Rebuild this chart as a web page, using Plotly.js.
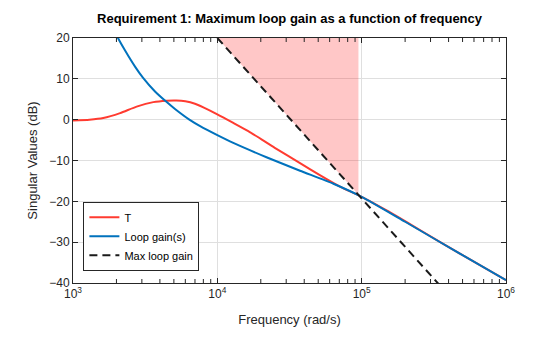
<!DOCTYPE html>
<html>
<head>
<meta charset="utf-8">
<script src="https://cdn.plot.ly/plotly-3.0.1.min.js"></script>
<style>html,body{margin:0;padding:0;background:#fff;}#chart{width:560px;height:337px;}</style>
</head>
<body>
<div id="chart"></div>
<script>
// Data (frequency in rad/s, values in dB)
const tFreq = [1e3, 1.3e3, 1.62e3, 2.12e3, 2.76e3, 3.6e3, 4.46e3, 5.2e3, 6e3, 7e3, 8e3, 1e4, 1.29e4, 1.69e4, 2.5e4, 3.74e4, 5.2e4, 7.08e4, 1e5, 1.5e5, 2.5e5, 5e5, 1e6];
const tDb   = [-0.2, 0.0, 0.4, 1.6, 3.2, 4.3, 4.65, 4.7, 4.5, 3.9, 3.0, 1.3, -0.8, -3.1, -6.9, -10.65, -13.7, -16.4, -18.9, -22.3, -26.9, -33.2, -39.3];

const lFreq = [1.7e3, 1.9e3, 2.05e3, 2.29e3, 2.69e3, 3.05e3, 3.7e3, 4.46e3, 5.09e3, 6.4e3, 7.6e3, 1e4, 1.29e4, 2.19e4, 3.74e4, 6.37e4, 1e5, 2e5, 5e5, 1e6];
const lDb   = [26, 22.5, 20, 17.0, 13.0, 10.3, 6.9, 4.3, 2.6, 0.0, -1.6, -3.8, -5.7, -9.2, -12.5, -15.7, -18.9, -25.0, -33.2, -39.3];

const maxFreq = [1e4, 1e6];
const maxDb   = [20, -58.6];

const shadeFreq = [1e4, 9.5e4, 9.5e4, 1e4];
const shadeDb   = [20, -18.4, 20, 20];

const xTickVals = [1e3, 1e4, 1e5, 1e6];
const xTickText = ['10<sup>3</sup>', '10<sup>4</sup>', '10<sup>5</sup>', '10<sup>6</sup>'];
const yTickVals = [-40, -30, -20, -10, 0, 10, 20];
const minorMultipliers = [2, 3, 4, 5, 6, 7, 8, 9];
const decades = [1e3, 1e4, 1e5];
const xMinorVals = [];
decades.forEach(d => minorMultipliers.forEach(m => xMinorVals.push(d * m)));

const font = 'Liberation Sans, Arial, sans-serif';
const axisColor = '#262626';
const xRangeLog = [3, 6];

// Minor tick marks on the bottom and top edges (axis decoration)
const plotH = 337 - 38 - 54;
const minorLen = 4 / plotH;
const minorShapes = [];
xMinorVals.forEach(v => {
  const fx = (Math.log10(v) - xRangeLog[0]) / (xRangeLog[1] - xRangeLog[0]);
  minorShapes.push({type: 'line', xref: 'paper', yref: 'paper', x0: fx, x1: fx, y0: 0, y1: minorLen,
                    line: {color: '#262626', width: 1}, layer: 'above'});
  minorShapes.push({type: 'line', xref: 'paper', yref: 'paper', x0: fx, x1: fx, y0: 1 - minorLen, y1: 1,
                    line: {color: '#262626', width: 1}, layer: 'above'});
});

const traces = [
  {x: shadeFreq, y: shadeDb, type: 'scatter', mode: 'lines', fill: 'toself',
   fillcolor: 'rgba(255,0,0,0.22)', line: {width: 0}, showlegend: false, hoverinfo: 'skip'},
  {x: tFreq, y: tDb, type: 'scatter', mode: 'lines', name: 'T',
   line: {color: '#ff3b30', width: 2, shape: 'spline', smoothing: 0.6}},
  {x: lFreq, y: lDb, type: 'scatter', mode: 'lines', name: 'Loop gain(s)',
   line: {color: '#0072bd', width: 2, shape: 'spline', smoothing: 0.6}},
  {x: maxFreq, y: maxDb, type: 'scatter', mode: 'lines', name: 'Max loop gain',
   line: {color: '#1a1a1a', width: 2, dash: '8px,5px'}}
];

const layout = {
  width: 560, height: 337,
  margin: {l: 73, r: 54, t: 38, b: 54},
  paper_bgcolor: '#fff', plot_bgcolor: '#fff',
  font: {family: font, size: 12, color: axisColor},
  title: {text: '<b>Requirement 1: Maximum loop gain as a function of frequency</b>',
          font: {family: font, size: 13, color: '#000'}, x: 0.517, xanchor: 'center', y: 0.945, yanchor: 'middle'},
  xaxis: {type: 'log', range: xRangeLog, tickvals: xTickVals, ticktext: xTickText,
          ticks: 'inside', ticklen: 5, tickcolor: axisColor, showline: true, linecolor: axisColor, linewidth: 1,
          mirror: 'ticks', showgrid: true, gridcolor: '#dfdfdf', gridwidth: 1, zeroline: false,
          tickfont: {size: 12, color: axisColor},
          title: {text: 'Frequency (rad/s)', font: {size: 13, color: axisColor}, standoff: 14}},
  yaxis: {range: [-40, 20], tickvals: yTickVals, ticks: 'inside', ticklen: 5, tickcolor: axisColor,
          showline: true, linecolor: axisColor, linewidth: 1, mirror: 'ticks',
          showgrid: true, gridcolor: '#dfdfdf', gridwidth: 1, zeroline: false,
          tickfont: {size: 12, color: axisColor},
          title: {text: 'Singular Values (dB)', font: {size: 13, color: axisColor}, standoff: 8}},
  shapes: minorShapes,
  legend: {x: 0.024, y: 0.05, xanchor: 'left', yanchor: 'bottom', bgcolor: '#fff',
           bordercolor: axisColor, borderwidth: 1, font: {size: 11, color: '#000'},
           tracegroupgap: 0, itemwidth: 30},
  showlegend: true
};

Plotly.newPlot('chart', traces, layout, {staticPlot: true, displayModeBar: false});
</script>
</body>
</html>
